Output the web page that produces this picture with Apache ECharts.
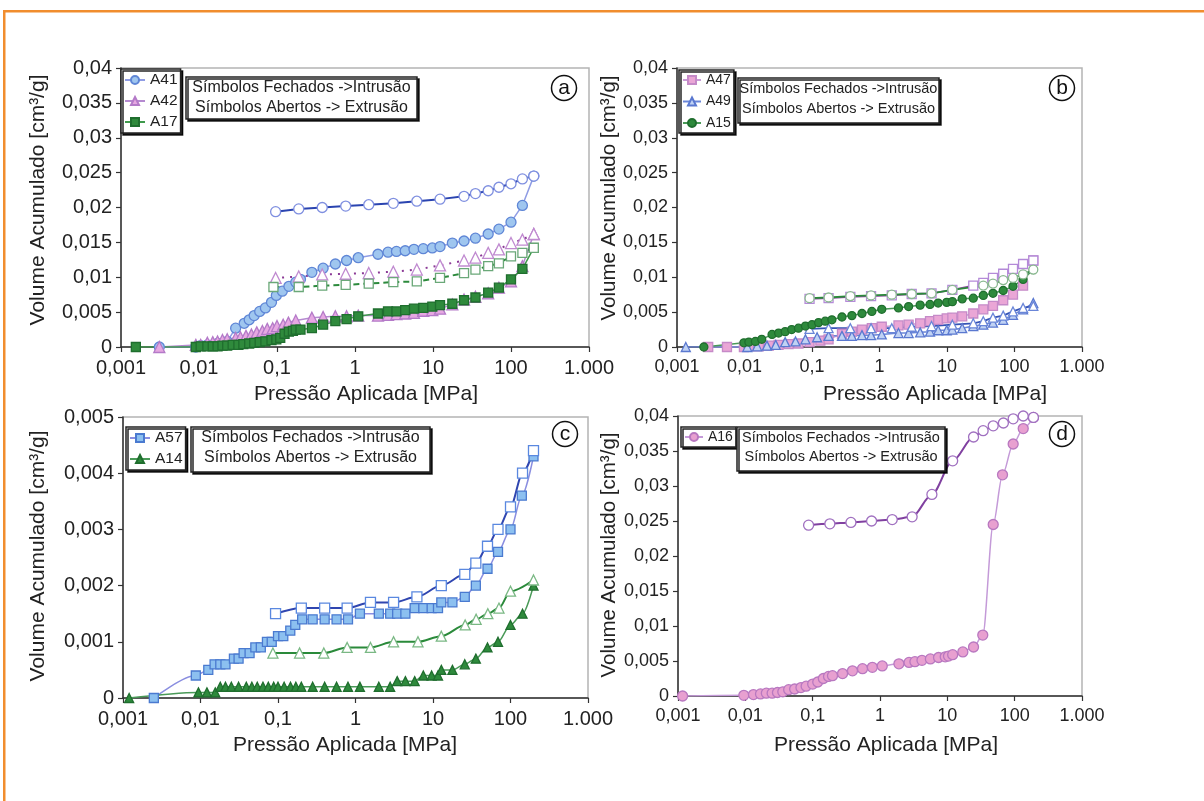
<!DOCTYPE html>
<html>
<head>
<meta charset="utf-8">
<script src="https://cdn.jsdelivr.net/npm/echarts@6/dist/echarts.min.js"></script>
<style>
html,body{margin:0;padding:0;background:#fff;}
#chart{width:1204px;height:801px;}
</style>
</head>
<body>
<div id="chart"></div>
<script>
// ---------- tick labels ----------
const xTickLabels = ['0,001','0,01','0,1','1','10','100','1.000'];
const yTicks04 = ['0','0,005','0,01','0,015','0,02','0,025','0,03','0,035','0,04'];
const yTicks005 = ['0','0,001','0,002','0,003','0,004','0,005'];

// ---------- panel (a) [pressure MPa, volume cm3/g] ----------
const A41_in = [[0.0031,0],[0.0091,0],[0.0105,0.0002],[0.0128,0.0003],[0.0173,0.0005],[0.023,0.0008],[0.0295,0.0027],[0.038,0.0034],[0.044,0.0039],[0.051,0.0045],[0.060,0.0051],[0.071,0.0056],[0.085,0.0064],[0.098,0.0074],[0.117,0.0080],[0.142,0.0087],[0.174,0.0093],[0.20,0.0097],[0.28,0.0107],[0.39,0.0113],[0.56,0.0119],[0.78,0.0124],[1.1,0.0128],[1.97,0.0133],[2.65,0.0136],[3.4,0.0137],[4.4,0.0138],[5.7,0.0140],[7.5,0.0141],[9.8,0.0142],[12.3,0.0144],[17.7,0.0149],[25,0.0152],[35,0.0156],[51,0.0162],[70,0.0169],[100,0.0179],[140,0.0203],[196,0.0245]];
const A41_ex = [[196,0.0245],[140,0.0241],[100,0.0234],[70,0.0229],[51,0.0224],[35,0.0220],[25,0.0216],[12.3,0.0212],[6.2,0.0209],[3.1,0.0206],[1.5,0.0204],[0.76,0.0202],[0.38,0.0200],[0.19,0.0198],[0.096,0.0194]];
const A42_in = [[0.0031,0],[0.0091,0.0003],[0.0105,0.0003],[0.0128,0.0006],[0.015,0.0007],[0.0173,0.0008],[0.02,0.0010],[0.023,0.0011],[0.0295,0.0013],[0.034,0.0014],[0.04,0.0016],[0.047,0.0018],[0.055,0.0021],[0.065,0.0023],[0.075,0.0026],[0.088,0.0027],[0.10,0.0030],[0.12,0.0032],[0.14,0.0035],[0.174,0.0038],[0.28,0.0042],[0.39,0.0043],[0.56,0.0044],[0.78,0.0044],[1.1,0.0045],[1.97,0.0045],[2.65,0.0046],[3.4,0.0047],[4.4,0.0048],[5.7,0.0049],[7.5,0.0052],[9.8,0.0053],[12.3,0.0055],[17.7,0.0061],[25,0.0068],[35,0.0072],[51,0.0077],[70,0.0085],[100,0.0094],[140,0.0116],[196,0.0162]];
const A42_ex = [[196,0.0162],[140,0.0154],[100,0.0149],[70,0.0140],[51,0.0135],[35,0.0128],[25,0.0124],[12.3,0.0117],[6.2,0.0111],[3.1,0.0108],[1.5,0.0106],[0.76,0.0105],[0.38,0.0104],[0.19,0.0101],[0.096,0.0099]];
const A17_in = [[0.00155,0],[0.0091,0],[0.0105,0.0001],[0.0128,0.0001],[0.015,0.0001],[0.0173,0.0001],[0.02,0.0002],[0.023,0.0002],[0.027,0.0003],[0.032,0.0003],[0.037,0.0004],[0.044,0.0005],[0.051,0.0006],[0.06,0.0007],[0.071,0.0008],[0.085,0.0010],[0.098,0.0011],[0.11,0.0013],[0.125,0.0019],[0.142,0.0022],[0.16,0.0023],[0.174,0.0025],[0.20,0.0025],[0.28,0.0027],[0.39,0.0032],[0.56,0.0037],[0.78,0.0040],[1.1,0.0044],[1.97,0.0048],[2.65,0.0051],[3.4,0.0051],[4.4,0.0053],[5.7,0.0055],[7.5,0.0056],[9.8,0.0058],[12.3,0.0060],[17.7,0.0062],[25,0.0067],[35,0.0071],[51,0.0078],[70,0.0085],[100,0.0097],[140,0.0112],[196,0.0142]];
const A17_ex = [[196,0.0142],[140,0.0135],[100,0.0130],[70,0.0120],[51,0.0116],[35,0.0111],[25,0.0106],[12.3,0.0099],[6.2,0.0094],[3.1,0.0093],[1.5,0.0091],[0.76,0.0089],[0.38,0.0088],[0.19,0.0086],[0.09,0.0086]];

// ---------- panel (b) ----------
const A47_in = [[0.0029,0],[0.0055,0],[0.0098,0],[0.0116,0.0001],[0.0163,0.0001],[0.023,0.0002],[0.032,0.0003],[0.045,0.0004],[0.063,0.0005],[0.092,0.0007],[0.133,0.0009],[0.176,0.0011],[0.278,0.0019],[0.39,0.0022],[0.55,0.0025],[0.77,0.0027],[1.08,0.0029],[1.91,0.0031],[2.7,0.0032],[4.0,0.0034],[5.6,0.0037],[7.4,0.0039],[9.9,0.0041],[12,0.0042],[16.8,0.0044],[24.5,0.0048],[34.5,0.0054],[48,0.0059],[68,0.0067],[95,0.0075],[134,0.0088],[190,0.0124]];
const A47_ex = [[190,0.0124],[134,0.0119],[95,0.0112],[68,0.0105],[48,0.0099],[34.5,0.0092],[24.5,0.0088],[12,0.0082],[5.9,0.0077],[3.0,0.0076],[1.52,0.0074],[0.75,0.0073],[0.37,0.0072],[0.176,0.0070],[0.092,0.0069]];
const A49_in = [[0.00135,0],[0.011,0],[0.0154,0.0001],[0.0215,0.0002],[0.029,0.0003],[0.040,0.0007],[0.057,0.0008],[0.080,0.0011],[0.119,0.0014],[0.176,0.0016],[0.278,0.0016],[0.39,0.0016],[0.55,0.0017],[0.75,0.0017],[1.08,0.0018],[1.91,0.0020],[2.7,0.0020],[4.0,0.0021],[5.6,0.0022],[7.4,0.0024],[9.9,0.0024],[12,0.0025],[16.8,0.0027],[24.5,0.0030],[34.5,0.0032],[48,0.0035],[68,0.0039],[95,0.0046],[134,0.0054],[190,0.0063]];
const A49_ex = [[190,0.0059],[134,0.0056],[95,0.0051],[68,0.0045],[48,0.0042],[34.5,0.0037],[24.5,0.0034],[12,0.0032],[5.9,0.0030],[3.0,0.0029],[1.52,0.0027],[0.75,0.0027],[0.37,0.0027],[0.176,0.0027],[0.092,0.0026]];
const A15_in = [[0.0025,0],[0.0098,0.0006],[0.0116,0.0007],[0.0145,0.0008],[0.018,0.0011],[0.0256,0.0018],[0.032,0.0020],[0.040,0.0022],[0.050,0.0025],[0.063,0.0027],[0.080,0.0030],[0.10,0.0032],[0.125,0.0035],[0.157,0.0037],[0.197,0.0039],[0.278,0.0043],[0.39,0.0045],[0.55,0.0048],[0.77,0.0051],[1.08,0.0054],[1.91,0.0056],[2.7,0.0058],[4.0,0.0060],[5.6,0.0061],[7.4,0.0063],[9.9,0.0064],[12,0.0065],[16.8,0.0069],[24.5,0.0070],[34.5,0.0074],[48,0.0077],[68,0.0081],[95,0.0087],[134,0.0097],[190,0.0111]];
const A15_ex = [[190,0.0111],[134,0.0104],[95,0.0099],[68,0.0096],[48,0.0091],[34.5,0.0088],[12,0.0082],[5.9,0.0077],[3.0,0.0076],[1.52,0.0075],[0.75,0.0074],[0.37,0.0073],[0.176,0.0071],[0.092,0.0070]];

// ---------- panel (c) ----------
const A57_in = [[0.0025,0],[0.0087,0.0004],[0.0126,0.0005],[0.0152,0.0006],[0.018,0.0006],[0.021,0.0006],[0.027,0.0007],[0.031,0.0007],[0.036,0.0008],[0.043,0.0008],[0.051,0.0009],[0.060,0.0009],[0.072,0.0010],[0.083,0.0010],[0.10,0.0011],[0.117,0.0011],[0.144,0.0012],[0.167,0.0013],[0.205,0.0014],[0.28,0.0014],[0.40,0.0014],[0.57,0.0014],[0.80,0.0014],[1.14,0.0015],[2.0,0.0015],[2.8,0.0015],[3.45,0.0015],[4.4,0.0015],[5.8,0.0016],[7.5,0.0016],[9.6,0.0016],[11.6,0.0016],[12.8,0.0017],[17.8,0.0017],[25.7,0.0018],[35.7,0.0020],[50.5,0.0023],[69,0.0026],[100,0.0030],[140,0.0036],[198,0.0043]];
const A57_ex = [[198,0.0044],[143,0.0040],[100,0.0034],[69,0.0030],[50.5,0.0027],[35.7,0.0024],[25.7,0.0022],[12.8,0.0020],[6.2,0.0018],[3.1,0.0017],[1.56,0.0017],[0.78,0.0016],[0.40,0.0016],[0.20,0.0016],[0.093,0.0015]];
const A14_in = [[0.0012,0],[0.0094,0.0001],[0.0121,0.0001],[0.0155,0.0001],[0.018,0.0002],[0.021,0.0002],[0.025,0.0002],[0.031,0.0002],[0.039,0.0002],[0.046,0.0002],[0.054,0.0002],[0.064,0.0002],[0.075,0.0002],[0.088,0.0002],[0.10,0.0002],[0.12,0.0002],[0.145,0.0002],[0.17,0.0002],[0.20,0.0002],[0.28,0.0002],[0.40,0.0002],[0.57,0.0002],[0.80,0.0002],[1.14,0.0002],[2.0,0.0002],[2.8,0.0002],[3.45,0.0003],[4.4,0.0003],[5.8,0.0003],[7.5,0.0004],[9.6,0.0004],[11.6,0.0004],[12.8,0.0005],[17.8,0.0005],[25.7,0.0006],[35.7,0.0007],[50.5,0.0009],[69,0.0010],[100,0.0013],[143,0.0015],[198,0.0020]];
const A14_ex = [[198,0.0021],[100,0.0019],[71,0.0016],[51,0.0015],[36,0.0014],[26,0.0013],[12.8,0.0011],[6.4,0.0010],[3.1,0.0010],[1.56,0.0009],[0.78,0.0009],[0.39,0.0008],[0.19,0.0008],[0.086,0.0008]];

// ---------- panel (d) ----------
const A16_in = [[0.00117,0],[0.0095,0.0001],[0.0132,0.0002],[0.0168,0.0003],[0.0205,0.0004],[0.025,0.0004],[0.030,0.0005],[0.036,0.0006],[0.044,0.0009],[0.054,0.0010],[0.067,0.0012],[0.080,0.0014],[0.10,0.0017],[0.119,0.0020],[0.144,0.0025],[0.172,0.0028],[0.197,0.0029],[0.278,0.0032],[0.39,0.0036],[0.55,0.0039],[0.77,0.0041],[1.08,0.0043],[1.91,0.0046],[2.7,0.0048],[3.3,0.0049],[4.2,0.0051],[5.6,0.0053],[7.4,0.0055],[9.3,0.0056],[10.4,0.0057],[12,0.0059],[17,0.0063],[24.5,0.0070],[33.6,0.0087],[48,0.0245],[66,0.0316],[95,0.0360],[134,0.0382],[190,0.0398]];
const A16_ex = [[190,0.0398],[134,0.0400],[95,0.0396],[68,0.0390],[48,0.0386],[34,0.0379],[24.5,0.0370],[12,0.0336],[5.9,0.0288],[3.0,0.0256],[1.52,0.0252],[0.75,0.0250],[0.37,0.0248],[0.18,0.0246],[0.087,0.0244]];

// ---------- texts ----------
const xName = 'Pressão Aplicada [MPa]';
const yName = 'Volume Acumulado [cm³/g]';
const note1 = 'Símbolos Fechados ->Intrusão';
const note2 = 'Símbolos Abertos -> Extrusão';
const panelLetters = ['a','b','c','d'];

// ---------- build ----------
const FONT = 'Liberation Sans, Arial, sans-serif';
const grids = [
  {left:121, top:68, width:468, height:279},
  {left:677, top:68, width:405, height:279},
  {left:123, top:417, width:465, height:281},
  {left:678, top:416, width:404, height:280}
];
const yMax = [0.04, 0.04, 0.005, 0.04];
const yInt = [0.005, 0.005, 0.001, 0.005];
const yLab = [yTicks04, yTicks04, yTicks005, yTicks04];
const tickFont = [20, 18, 20, 18];

const grid = grids.map(g => Object.assign({show:true, borderColor:'#b4b4b4', borderWidth:1.5, backgroundColor:'#fff'}, g));
const xAxis = grids.map((g,i) => ({
  type:'log', logBase:10, min:0.001, max:1000, gridIndex:i,
  axisLine:{show:true, onZero:false, lineStyle:{color:'#333', width:1.5}},
  axisTick:{show:true, length:5, lineStyle:{color:'#333', width:1.2}},
  axisLabel:{fontSize:tickFont[i], color:'#222', fontFamily:FONT, margin:11,
    formatter: v => xTickLabels[Math.round(Math.log10(v)) + 3]},
  splitLine:{show:false}, minorTick:{show:false}
}));
const yAxis = grids.map((g,i) => ({
  type:'value', min:0, max:yMax[i], interval:yInt[i], gridIndex:i,
  axisLine:{show:true, lineStyle:{color:'#333', width:1.5}},
  axisTick:{show:true, length:5, lineStyle:{color:'#333', width:1.2}},
  axisLabel:{fontSize:tickFont[i], color:'#222', fontFamily:FONT, margin:9,
    formatter: v => yLab[i][Math.round(v / yInt[i])]},
  splitLine:{show:false}
}));

function ser(name, data, gi, o) {
  return {
    name: name, type:'line', data: data, xAxisIndex: gi, yAxisIndex: gi,
    symbol: o.sym, symbolSize: o.size,
    smooth: o.smooth || false, smoothMonotone: o.smooth ? 'x' : undefined,
    lineStyle:{color:o.line, width:o.lw || 1.5, type:o.lt || 'solid'},
    itemStyle:{color:o.fill, borderColor:o.edge, borderWidth:1.3},
    emphasis:{disabled:true}, animation:false, z: o.z || 2
  };
}
const series = [
  ser('A41', A41_in, 0, {sym:'circle', size:10, fill:'#9fc6ef', edge:'#5f86d6', line:'#8f9ce4'}),
  ser('A41 ext', A41_ex, 0, {sym:'circle', size:10, fill:'#ffffff', edge:'#7f8fe0', line:'#2a44b0', lw:2}),
  ser('A42', A42_in, 0, {sym:'triangle', size:11, fill:'#e6a8e2', edge:'#b47ac8', line:'#b58ad0'}),
  ser('A42 ext', A42_ex, 0, {sym:'triangle', size:11, fill:'#ffffff', edge:'#c08ad0', line:'#8b3a96', lw:2, lt:[2,6]}),
  ser('A17', A17_in, 0, {sym:'rect', size:9, fill:'#2f8a3c', edge:'#1f6e2e', line:'#3f9a4c'}),
  ser('A17 ext', A17_ex, 0, {sym:'rect', size:9, fill:'#ffffff', edge:'#6aa878', line:'#2c8a3c', lw:2, lt:[6,4]}),

  ser('A47', A47_in, 1, {sym:'rect', size:9, fill:'#eaa6d6', edge:'#c58ac8', line:'#c99ad6'}),
  ser('A47 ext', A47_ex, 1, {sym:'rect', size:9, fill:'#ffffff', edge:'#b48ad8', line:'#8c4a9e', lw:1.8}),
  ser('A49', A49_in, 1, {sym:'triangle', size:9, fill:'#c0d2f4', edge:'#5a78d0', line:'#6a86d8'}),
  ser('A49 ext', A49_ex, 1, {sym:'triangle', size:9, fill:'#ffffff', edge:'#6a86d8', line:'#3553b5', lw:1.8}),
  ser('A15', A15_in, 1, {sym:'circle', size:8, fill:'#2e8a3c', edge:'#1f6e2e', line:'#4a9a58'}),
  ser('A15 ext', A15_ex, 1, {sym:'circle', size:9, fill:'#ffffff', edge:'#8ab890', line:'#2a8a3a', lw:1.8}),

  ser('A57', A57_in, 2, {sym:'rect', size:9, fill:'#8cc0f0', edge:'#4a7ad0', line:'#8a8ee0', smooth:0.3}),
  ser('A57 ext', A57_ex, 2, {sym:'rect', size:10, fill:'#ffffff', edge:'#5a88e0', line:'#3046b0', lw:2, smooth:0.3}),
  ser('A14', A14_in, 2, {sym:'triangle', size:9, fill:'#2e8a3c', edge:'#1f6e2e', line:'#4a9a58', smooth:0.3}),
  ser('A14 ext', A14_ex, 2, {sym:'triangle', size:10, fill:'#ffffff', edge:'#7ab884', line:'#2a8a3a', lw:2, smooth:0.3}),

  ser('A16', A16_in, 3, {sym:'circle', size:10, fill:'#e8a0d0', edge:'#b878c0', line:'#c49ad8', smooth:0.3}),
  ser('A16 ext', A16_ex, 3, {sym:'circle', size:10, fill:'#ffffff', edge:'#a070c0', line:'#8040a0', lw:2, smooth:0.3})
];

function leg(names, left, top, fs, iw, gap) {
  return {
    data: names, left: left, top: top, orient:'vertical',
    itemGap:gap, itemWidth:iw, itemHeight:10, padding:[3,3,3,3],
    backgroundColor:'#fff', borderColor:'#222', borderWidth:1.5,
    shadowColor:'rgba(0,0,0,0.85)', shadowOffsetX:2, shadowOffsetY:2, shadowBlur:0.01,
    textStyle:{fontSize:fs, color:'#222', fontFamily:FONT},
    selectedMode:false, z:6
  };
}
const legend = [
  leg(['A41','A42','A17'], 121, 69, 15.5, 20, 5),
  leg(['A47','A49','A15'], 679, 70, 14, 18, 7.5),
  leg(['A57','A14'], 126, 427, 15.5, 20, 5),
  leg(['A16'], 681, 427, 14, 18, 5)
];

function noteBox(x, y, w, h, fs, cy1, cy2) {
  const cx = x + w / 2;
  return [
    {type:'rect', z:6, shape:{x:x, y:y, width:w, height:h},
     style:{fill:'#fff', stroke:'#222', lineWidth:1.5, shadowColor:'rgba(0,0,0,0.85)', shadowOffsetX:2, shadowOffsetY:2, shadowBlur:0.01}},
    {type:'text', z:7, x:cx, y:cy1, style:{text:note1, x:0, y:0, textAlign:'center', textVerticalAlign:'middle', verticalAlign:'middle', font:fs + 'px ' + FONT, fill:'#222'}},
    {type:'text', z:7, x:cx, y:cy2, style:{text:note2, x:0, y:0, textAlign:'center', textVerticalAlign:'middle', verticalAlign:'middle', font:fs + 'px ' + FONT, fill:'#222'}}
  ];
}
function circleLabel(cx, cy, letter) {
  return [
    {type:'circle', z:6, shape:{cx:cx, cy:cy, r:12.5}, style:{fill:'#fff', stroke:'#111', lineWidth:1.5}},
    {type:'text', z:7, x:cx, y:cy, style:{text:letter, x:0, y:0, textAlign:'center', textVerticalAlign:'middle', verticalAlign:'middle', font:'21px ' + FONT, fill:'#111'}}
  ];
}
function axisText(txt, x, y, rot, fs) {
  return {type:'text', z:7, x:x, y:y, rotation: rot ? Math.PI / 2 : 0,
    style:{text:txt, x:0, y:0, textAlign:'center', textVerticalAlign:'middle', verticalAlign:'middle', font:(fs || 21) + 'px ' + FONT, fill:'#222'}};
}

const graphic = [].concat(
  [{type:'rect', z:8, shape:{x:3, y:10, width:1201, height:2.5}, style:{fill:'#f18d2e'}},
   {type:'rect', z:8, shape:{x:3, y:10, width:2.5, height:791}, style:{fill:'#f18d2e'}}],
  noteBox(186, 77, 231, 42, 16, 88, 108),
  noteBox(738, 78, 201, 45, 14.5, 89, 109),
  noteBox(191, 427, 239, 45, 16, 438, 458),
  noteBox(737, 427, 208, 44, 14.5, 438, 457),
  circleLabel(564, 88, panelLetters[0]),
  circleLabel(1062, 88, panelLetters[1]),
  circleLabel(565, 434, panelLetters[2]),
  circleLabel(1062, 434, panelLetters[3]),
  [axisText(xName, 366, 394, false), axisText(xName, 935, 394, false),
   axisText(xName, 345, 745, false), axisText(xName, 886, 745, false),
   axisText(yName, 38, 200, true), axisText(yName, 609, 198, true, 20.5),
   axisText(yName, 38, 556, true), axisText(yName, 609, 555, true, 20.5)]
);

const chart = echarts.init(document.getElementById('chart'), null, {renderer:'canvas'});
chart.setOption({
  animation:false, backgroundColor:'#fff',
  grid: grid, xAxis: xAxis, yAxis: yAxis, series: series, legend: legend, graphic: graphic
});
</script>
</body>
</html>
